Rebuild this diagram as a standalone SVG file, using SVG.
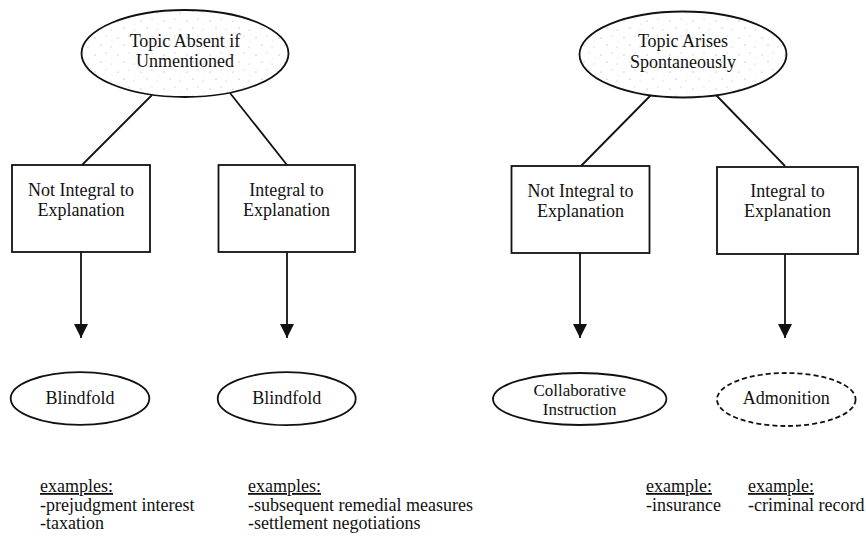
<svg xmlns="http://www.w3.org/2000/svg" width="866" height="545" viewBox="0 0 866 545">
<style>
  text { font-family: "Liberation Serif", Tinos, "Times New Roman", "DejaVu Serif", serif; font-size: 18px; fill: #111; }
  .c { text-anchor: middle; }
  .box { fill: #fff; stroke: #111; stroke-width: 1.8; }
  .oval { fill: #fff; stroke: #111; stroke-width: 1.8; }
  .top { fill: url(#stipple); stroke: #111; stroke-width: 1.8; }
  .dash { fill: #fff; stroke: #111; stroke-width: 1.8; stroke-dasharray: 5 3; }
  .edge { stroke: #111; stroke-width: 1.8; fill: none; }
  .u { text-decoration: underline; }
</style>
<defs>
  <pattern id="stipple" width="23" height="17" patternUnits="userSpaceOnUse">
    <rect width="23" height="17" fill="#fff"/>
    <circle cx="3" cy="4" r="0.6" fill="#999"/>
    <circle cx="14" cy="2" r="0.5" fill="#aaa"/>
    <circle cx="9" cy="11" r="0.6" fill="#999"/>
    <circle cx="19" cy="13" r="0.5" fill="#aaa"/>
    <circle cx="20" cy="7" r="0.4" fill="#bbb"/>
  </pattern>
  <marker id="arr" markerWidth="14" markerHeight="15" refX="14" refY="7" orient="auto" markerUnits="userSpaceOnUse">
    <path d="M0,0 L14,7 L0,14 Z" fill="#111"/>
  </marker>
</defs>
<rect width="866" height="545" fill="#fff"/>

<g id="connectors">
  <line class="edge" x1="152" y1="95" x2="82" y2="165"/>
  <line class="edge" x1="230" y1="93" x2="287" y2="165"/>
  <line class="edge" x1="651" y1="95" x2="581" y2="166"/>
  <line class="edge" x1="716" y1="95" x2="785" y2="166"/>
  <line class="edge" x1="81" y1="252" x2="81" y2="338" marker-end="url(#arr)"/>
  <line class="edge" x1="287" y1="252" x2="287" y2="338" marker-end="url(#arr)"/>
  <line class="edge" x1="580" y1="253" x2="580" y2="338" marker-end="url(#arr)"/>
  <line class="edge" x1="785" y1="254" x2="785" y2="338" marker-end="url(#arr)"/>
</g>

<g id="topic-absent">
  <ellipse class="top" cx="185" cy="53.5" rx="103.5" ry="43.5"/>
  <text class="c" x="185" y="47">Topic Absent if</text>
  <text class="c" x="185" y="67">Unmentioned</text>
</g>
<g id="topic-arises">
  <ellipse class="top" cx="683" cy="54.5" rx="103.5" ry="43"/>
  <text class="c" x="683" y="47">Topic Arises</text>
  <text class="c" x="683" y="68">Spontaneously</text>
</g>

<g id="box1">
  <rect class="box" x="12" y="165" width="138" height="87"/>
  <text class="c" x="81" y="196">Not Integral to</text>
  <text class="c" x="81" y="216">Explanation</text>
</g>
<g id="box2">
  <rect class="box" x="218.5" y="165" width="136.5" height="87"/>
  <text class="c" x="286.5" y="196">Integral to</text>
  <text class="c" x="286.5" y="216">Explanation</text>
</g>
<g id="box3">
  <rect class="box" x="511.5" y="166" width="138" height="87"/>
  <text class="c" x="580.5" y="197">Not Integral to</text>
  <text class="c" x="580.5" y="217">Explanation</text>
</g>
<g id="box4">
  <rect class="box" x="717" y="167" width="141" height="87"/>
  <text class="c" x="787.5" y="197">Integral to</text>
  <text class="c" x="787.5" y="217">Explanation</text>
</g>

<g id="blindfold1">
  <ellipse class="oval" cx="80" cy="398.5" rx="69.3" ry="26.3"/>
  <text class="c" x="80" y="404">Blindfold</text>
</g>
<g id="blindfold2">
  <ellipse class="oval" cx="286.7" cy="398.7" rx="69" ry="26.5"/>
  <text class="c" x="286.7" y="404">Blindfold</text>
</g>
<g id="collaborative">
  <ellipse class="oval" cx="579.7" cy="399" rx="86.7" ry="26"/>
  <text class="c" x="579.7" y="396" style="font-size:17px">Collaborative</text>
  <text class="c" x="579.7" y="415" style="font-size:17px">Instruction</text>
</g>
<g id="admonition">
  <ellipse class="dash" cx="786.3" cy="399.5" rx="69.3" ry="26.5"/>
  <text class="c" x="786.3" y="404">Admonition</text>
</g>

<g id="examples1">
  <text class="u" x="40" y="492">examples:</text>
  <text x="40" y="510.5">-prejudgment interest</text>
  <text x="40" y="529">-taxation</text>
</g>
<g id="examples2">
  <text class="u" x="248" y="492">examples:</text>
  <text x="248" y="510.5">-subsequent remedial measures</text>
  <text x="248" y="529">-settlement negotiations</text>
</g>
<g id="examples3">
  <text class="u" x="646" y="492">example:</text>
  <text x="646" y="510.5">-insurance</text>
</g>
<g id="examples4">
  <text class="u" x="748" y="492">example:</text>
  <text x="748" y="510.5">-criminal record</text>
</g>
</svg>
